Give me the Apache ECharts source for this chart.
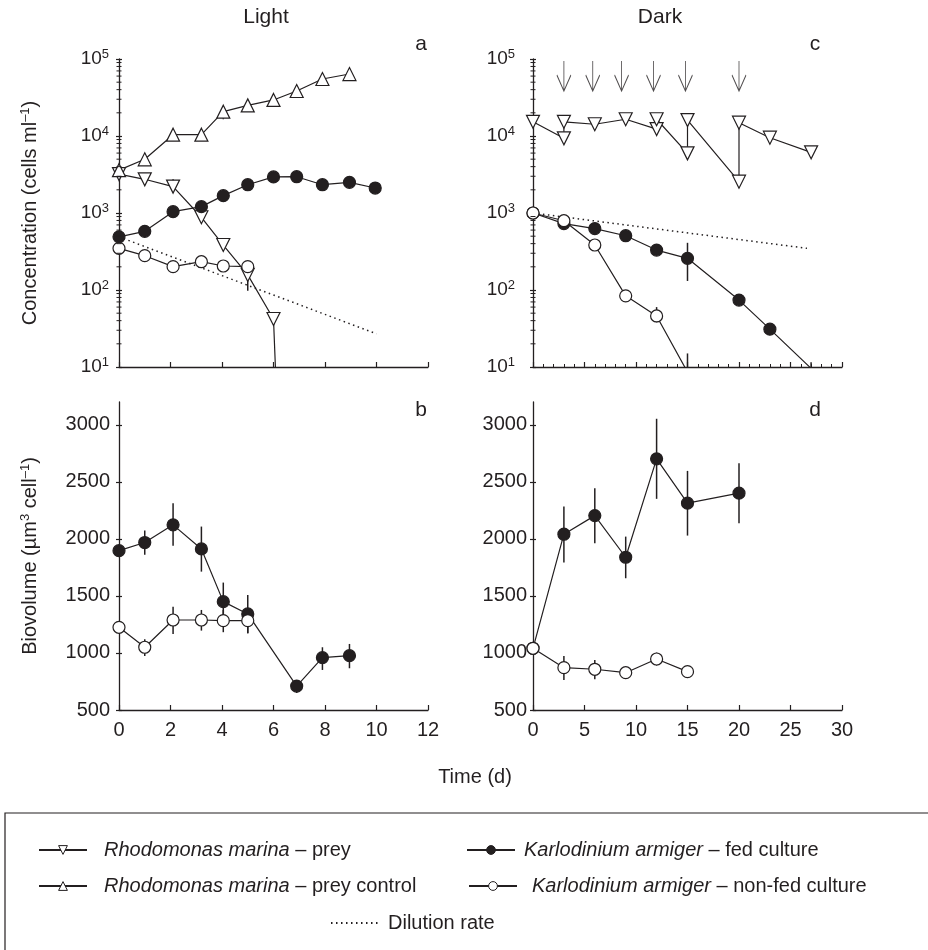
<!DOCTYPE html>
<html lang="en">
<head>
<meta charset="UTF-8">
<title>Light / Dark</title>
<script src="https://cdn.jsdelivr.net/npm/echarts@6.0.0/dist/echarts.min.js"></script>
<style>
  html, body { margin: 0; padding: 0; background: #fff; }
  #chart { width: 928px; height: 950px; }
</style>
</head>
<body>
<div id="chart"></div>
<script>
// --- data (days, values) ---

// a: Light, concentration (cells ml-1)
const lightPreyDays = [0, 1, 2.1, 3.2, 4.05, 5, 6, 6.1];
const lightPrey = [3200, 2740, 2200, 880, 384, 157, 42, 6];
const lightCtrlDays = [0, 1, 2.1, 3.2, 4.05, 5, 6, 6.9, 7.9, 8.95];
const lightCtrl = [3600, 4980, 10400, 10400, 20700, 25000, 29400, 38400, 55000, 63800];
const lightFedDays = [0, 1, 2.1, 3.2, 4.05, 5, 6, 6.9, 7.9, 8.95, 9.95];
const lightFed = [490, 578, 1040, 1210, 1680, 2330, 2940, 2960, 2330, 2500, 2110];
const lightNonFedDays = [0, 1, 2.1, 3.2, 4.05, 5];
const lightNonFed = [348, 279, 201, 233, 205, 201];
const lightDilutionDays = [0, 10];
const lightDilution = [490, 27];
// [day, low, high]
const lightConcErr = [[2.1, 2000, 2750], [5, 98, 205], [1, 4500, 5500], [4.05, 16500, 24000], [5, 175, 232]];

// b: Light, biovolume
const lightVolFedDays = [0, 1, 2.1, 3.2, 4.05, 5, 6.9, 7.9, 8.95];
const lightVolFed = [1897, 1968, 2123, 1912, 1450, 1342, 710, 959, 976];
const lightVolFedErr = [[1, 1860, 2073], [2.1, 1939, 2313], [3.2, 1713, 2108], [4.05, 1275, 1617],
  [5, 1173, 1509], [6.9, 649, 763], [7.9, 851, 1050], [8.95, 866, 1079]];
const lightVolNonFedDays = [0, 1, 2.1, 3.2, 4.05, 5];
const lightVolNonFed = [1225, 1050, 1289, 1289, 1283, 1283];
const lightVolNonFedErr = [[1, 974, 1120], [2.1, 1167, 1406], [3.2, 1196, 1377], [4.05, 1182, 1377], [5, 1173, 1392]];

// c: Dark, concentration
const darkPreyDays = [0, 3, 3, 6, 9, 12, 12, 15, 15, 20, 20, 23, 27];
const darkPrey = [15300, 9330, 15300, 14200, 16500, 12300, 16500, 5950, 16100, 2550, 14900, 9500, 6140];
const darkFedDays = [0, 3, 6, 9, 12, 15, 20, 23, 27];
const darkFed = [1000, 728, 627, 507, 330, 258, 74, 31, 9.6];
const darkNonFedDays = [0, 3, 6, 9, 12, 15];
const darkNonFed = [1000, 794, 384, 84, 46, 8.6];
const darkDilutionDays = [0, 26.6];
const darkDilution = [1000, 348];
const darkConcErr = [[15, 131, 410], [20, 62, 88], [27, 8, 11.5], [12, 38, 60], [15, 5, 15]];
// prey additions (arrows)
const preyAddDays = [3, 5.8, 8.6, 11.7, 14.8, 20];
const preyAddLevel = 60000;

// d: Dark, biovolume
const darkVolFedDays = [0, 3, 6, 9, 12, 15, 20];
const darkVolFed = [1041, 2041, 2204, 1839, 2702, 2313, 2401];
const darkVolFedErr = [[0, 950, 1130], [3, 1792, 2283], [6, 1962, 2445], [9, 1655, 2020],
  [12, 2351, 3053], [15, 2029, 2596], [20, 2138, 2664]];
const darkVolNonFedDays = [0, 3, 6, 9, 12, 15];
const darkVolNonFed = [1041, 871, 857, 827, 947, 836];
const darkVolNonFedErr = [[3, 763, 974], [6, 769, 939], [9, 800, 860], [12, 889, 1003]];

// axis ticks
const volTicks = [500, 1000, 1500, 2000, 2500, 3000];
const minorMantissas = [2, 3, 4, 5, 6, 7, 8, 9];
const decadeStarts = [10, 100, 1000, 10000];

const NAME_PREY = 'Rhodomonas marina – prey';
const NAME_CTRL = 'Rhodomonas marina – prey control';
const NAME_FED = 'Karlodinium armiger – fed culture';
const NAME_NONFED = 'Karlodinium armiger – non-fed culture';
const NAME_DIL = 'Dilution rate';

const FONT = '"Liberation Sans", Arial, sans-serif';
const INK = '#231f20';
const PANEL_W = 309;

const MK_DOWN = {symbol: 'triangle', size: 13, rotate: 180, fill: '#fff'};
const MK_UP = {symbol: 'triangle', size: 13, rotate: 0, fill: '#fff'};
const MK_FED = {symbol: 'circle', size: 12, rotate: 0, fill: INK};
const MK_OPEN = {symbol: 'circle', size: 12, rotate: 0, fill: '#fff'};

function lineSeries(name, days, vals, mk, x, y, hideLast) {
    let data = days.map((d, i) => [d, vals[i]]);
    if (hideLast) {
        data[data.length - 1] = {value: data[data.length - 1], symbol: 'none'};
    }
    return {
        name: name, type: 'line', xAxisIndex: x, yAxisIndex: y, data: data,
        symbol: mk.symbol, symbolSize: mk.size, symbolRotate: mk.rotate, showAllSymbol: true,
        itemStyle: {color: mk.fill, borderColor: INK, borderWidth: 1.2},
        lineStyle: {color: INK, width: 1.2},
        emphasis: {disabled: true}, z: 3
    };
}

function dilutionSeries(days, vals, x, y) {
    return {
        name: NAME_DIL, type: 'line', xAxisIndex: x, yAxisIndex: y,
        data: days.map((d, i) => [d, vals[i]]),
        symbol: 'none', itemStyle: {color: INK},
        lineStyle: {color: INK, width: 1.5, type: [1.5, 3.5]},
        emphasis: {disabled: true}, z: 2
    };
}

function errSeries(data, x, y) {
    return {
        type: 'custom', xAxisIndex: x, yAxisIndex: y, data: data, z: 1, silent: true, clip: true,
        encode: {x: 0, y: [1, 2]},
        renderItem: function (params, api) {
            let lo = api.coord([api.value(0), api.value(1)]);
            let hi = api.coord([api.value(0), api.value(2)]);
            return {type: 'line', shape: {x1: lo[0], y1: lo[1], x2: hi[0], y2: hi[1]},
                style: {stroke: INK, lineWidth: 1.5}};
        }
    };
}

// small log ticks 2..9 of each decade, drawn across the y axis line
let logMinorTicks = [];
decadeStarts.forEach(d => minorMantissas.forEach(m => logMinorTicks.push([0, m * d])));

function minorTickSeries(x, y) {
    return {
        type: 'custom', xAxisIndex: x, yAxisIndex: y, data: logMinorTicks, z: 4, silent: true, clip: false,
        encode: {x: 0, y: 1},
        renderItem: function (params, api) {
            let p = api.coord([api.value(0), api.value(1)]);
            return {type: 'line', shape: {x1: p[0] - 2.5, y1: p[1], x2: p[0] + 2.5, y2: p[1]},
                style: {stroke: INK, lineWidth: 1}};
        }
    };
}

function timeAxis(grid, max, interval, labels, minor) {
    return {
        type: 'value', gridIndex: grid, min: 0, max: max, interval: interval, position: 'bottom',
        axisLine: {show: true, onZero: false, lineStyle: {color: INK, width: 1.3}},
        axisTick: {show: true, inside: true, length: 5, lineStyle: {color: INK, width: 1.2}},
        minorTick: {show: minor, splitNumber: 5, length: 3, lineStyle: {color: INK, width: 1}},
        axisLabel: {show: labels, margin: 10, color: INK, fontFamily: FONT, fontSize: 20},
        splitLine: {show: false}
    };
}

// "twin" = a second copy of the axis, parked on the left edge (right position, negative offset)
// so its outside ticks poke into the plot and the ticks cross the axis line.
function logAxis(grid, twin, margin, name) {
    return {
        type: 'log', logBase: 10, gridIndex: grid, min: 10, max: 100000,
        position: twin ? 'right' : 'left', offset: twin ? -PANEL_W : 0,
        axisLine: {show: !twin, onZero: false, lineStyle: {color: INK, width: 1.3}},
        axisTick: {show: true, inside: false, length: 3, lineStyle: {color: INK, width: 1.2}},
        splitLine: {show: false},
        axisLabel: {
            show: !twin, margin: margin, color: INK, fontFamily: FONT, fontSize: 19,
            formatter: v => '10{s|' + Math.round(Math.log10(v)) + '}',
            rich: {s: {fontSize: 13, color: INK, fontFamily: FONT, padding: [0, 0, 9, 0]}}
        },
        name: name || '', nameLocation: 'middle', nameGap: 78,
        nameTextStyle: {color: INK, fontFamily: FONT, fontSize: 20,
            rich: {s: {fontSize: 13, color: INK, fontFamily: FONT, padding: [0, 0, 9, 0]}}}
    };
}

function volAxis(grid, twin, margin, name) {
    return {
        type: 'value', gridIndex: grid, min: 500, max: 3200,
        position: twin ? 'right' : 'left', offset: twin ? -PANEL_W : 0,
        axisLine: {show: !twin, onZero: false, lineStyle: {color: INK, width: 1.3}},
        axisTick: {show: true, inside: false, length: 3, customValues: volTicks, lineStyle: {color: INK, width: 1.2}},
        splitLine: {show: false},
        axisLabel: {show: !twin, margin: margin, customValues: volTicks, formatter: v => String(v),
            color: INK, fontFamily: FONT, fontSize: 20},
        name: name || '', nameLocation: 'middle', nameGap: 78,
        nameTextStyle: {color: INK, fontFamily: FONT, fontSize: 20,
            rich: {s: {fontSize: 13, color: INK, fontFamily: FONT, padding: [0, 0, 9, 0]}}}
    };
}

function legendLabel(name) {
    let cut = name.indexOf(' – ');
    if (cut < 0) return '{n|' + name + '}';
    return '{i|' + name.slice(0, cut) + '}{n|' + name.slice(cut) + '}';
}

function legendAt(name, fill, left, top, gap) {
    let base = {fontFamily: FONT, fontSize: 20, color: INK};
    let plain = name.indexOf(' – ') < 0;
    return {
        data: [name], left: left, top: top, padding: 0, itemWidth: 48, itemHeight: 11,
        selectedMode: false, formatter: legendLabel,
        itemStyle: plain ? {opacity: 0} : {color: fill, borderColor: INK, borderWidth: 1},
        textStyle: Object.assign({}, base, {
            rich: {
                i: Object.assign({}, base, {fontStyle: 'italic', padding: [0, 0, 0, gap]}),
                n: Object.assign({}, base, {padding: [0, 0, 0, plain ? gap : 0]})
            }
        })
    };
}

function label(text, x, y, size) {
    return {type: 'text', x: x, y: y, silent: true,
        style: {text: text, fill: INK, fontFamily: FONT, fontSize: size, align: 'center', verticalAlign: 'middle'}};
}

let myChart = echarts.init(document.getElementById('chart'), null, {renderer: 'canvas'});

let option = {
    animation: false,
    backgroundColor: '#fff',
    grid: [
        {left: 119, top: 59, width: PANEL_W, height: 308},
        {left: 533, top: 59, width: PANEL_W, height: 308},
        {left: 119, top: 402, width: PANEL_W, height: 308},
        {left: 533, top: 402, width: PANEL_W, height: 308}
    ],
    xAxis: [
        timeAxis(0, 12, 2, false, false),
        timeAxis(1, 30, 5, false, true),
        timeAxis(2, 12, 2, true, false),
        timeAxis(3, 30, 5, true, false)
    ],
    yAxis: [
        logAxis(0, false, 10, 'Concentration (cells ml{s|–1})'),
        logAxis(0, true, 10),
        logAxis(1, false, 18),
        logAxis(1, true, 18),
        volAxis(2, false, 9, 'Biovolume (µm{s|3} cell{s|–1})'),
        volAxis(2, true, 9),
        volAxis(3, false, 6),
        volAxis(3, true, 6)
    ],
    legend: [
        legendAt(NAME_PREY, '#fff', 38, 840, 12),
        legendAt(NAME_FED, INK, 466, 840, 4),
        legendAt(NAME_CTRL, '#fff', 38, 876, 12),
        legendAt(NAME_NONFED, '#fff', 468, 876, 10),
        legendAt(NAME_DIL, INK, 330, 913, 4)
    ],
    graphic: [
        {type: 'rect', silent: true, z: -1, shape: {x: 5, y: 813, width: 960, height: 200},
            style: {fill: 'none', stroke: INK, lineWidth: 1.2}},
        label('Light', 266, 17, 21),
        label('Dark', 660, 17, 21),
        label('a', 421, 44, 21),
        label('c', 815, 44, 21),
        label('b', 421, 410, 21),
        label('d', 815, 410, 21),
        label('Time (d)', 475, 777, 20)
    ],
    series: [
        // a
        lineSeries(NAME_PREY, lightPreyDays, lightPrey, MK_DOWN, 0, 0, true),
        lineSeries(NAME_CTRL, lightCtrlDays, lightCtrl, MK_UP, 0, 0, false),
        dilutionSeries(lightDilutionDays, lightDilution, 0, 0),
        lineSeries(NAME_FED, lightFedDays, lightFed, MK_FED, 0, 0, false),
        lineSeries(NAME_NONFED, lightNonFedDays, lightNonFed, MK_OPEN, 0, 0, false),
        errSeries(lightConcErr, 0, 0),
        minorTickSeries(0, 0),
        // c
        lineSeries(NAME_PREY, darkPreyDays, darkPrey, MK_DOWN, 1, 2, false),
        dilutionSeries(darkDilutionDays, darkDilution, 1, 2),
        lineSeries(NAME_FED, darkFedDays, darkFed, MK_FED, 1, 2, true),
        lineSeries(NAME_NONFED, darkNonFedDays, darkNonFed, MK_OPEN, 1, 2, true),
        errSeries(darkConcErr, 1, 2),
        minorTickSeries(1, 2),
        {
            type: 'scatter', xAxisIndex: 1, yAxisIndex: 2, silent: true, z: 3,
            data: preyAddDays.map(d => [d, preyAddLevel]),
            symbol: 'path://M7,0L7,30M0,14L7,30L14,14', symbolSize: [14, 30],
            itemStyle: {color: 'none', borderColor: INK, borderWidth: 1.2}
        },
        // b
        lineSeries(NAME_FED, lightVolFedDays, lightVolFed, MK_FED, 2, 4, false),
        lineSeries(NAME_NONFED, lightVolNonFedDays, lightVolNonFed, MK_OPEN, 2, 4, false),
        errSeries(lightVolFedErr, 2, 4),
        errSeries(lightVolNonFedErr, 2, 4),
        // d
        lineSeries(NAME_FED, darkVolFedDays, darkVolFed, MK_FED, 3, 6, false),
        lineSeries(NAME_NONFED, darkVolNonFedDays, darkVolNonFed, MK_OPEN, 3, 6, false),
        errSeries(darkVolFedErr, 3, 6),
        errSeries(darkVolNonFedErr, 3, 6)
    ]
};

myChart.setOption(option);
</script>
</body>
</html>
